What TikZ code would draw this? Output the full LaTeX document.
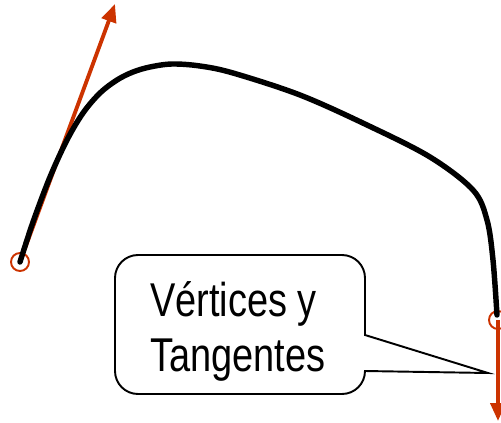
\documentclass[tikz,border=0pt]{standalone}
\usepackage{fontspec}
\setmainfont{Liberation Sans}
\usetikzlibrary{arrows.meta}
\definecolor{tanred}{RGB}{204,51,0}
\tikzset{
  vertex/.style={circle, draw=tanred, line width=1.1pt, minimum size=0.36cm, inner sep=0pt},
  tangent/.style={tanred, line width=2.2pt, -{Triangle[length=0.36cm, width=0.3cm]}},
  spline/.style={black, line width=3.1pt, line cap=round}
}
\begin{document}
\begin{tikzpicture}[x=0.02cm, y=-0.02cm]
\useasboundingbox (0,0) rectangle (501,423);
% vertices
\node[vertex] (v0) at (20,262) {};
\node[vertex] (v1) at (498,320) {};
\coordinate (t0) at (115,4);
\coordinate (t1) at (498,421);
% tangents
\draw[tangent] (v0.center) -- (t0);
\draw[tangent] (v1.center) -- (t1);
% curve
\draw[spline] plot[smooth, tension=0.55] coordinates {(v0.center) (33,222) (50,177) (67,140) (83,113) (100,93) (117,80) (133,72) (150,67) (172,64) (200,66) (233,73) (300,95) (367,125) (430,157) (473,190) (487,220) (493,260) (497,315)};
% callout
\coordinate (tip) at (488,373);
\draw[line width=1.1pt, rounded corners=0.46cm] (240,394) -- (115,394) -- (115,255) -- (365,255) [sharp corners] -- (365,335) -- (tip) -- (365,371) [rounded corners=0.46cm] -- (365,394) -- cycle;
\node[anchor=base west, inner sep=0pt, align=left, font=\fontsize{27}{31.3}\selectfont] (label) at (150,371) {\scalebox{0.8}[1]{Vértices y}\\\scalebox{0.8}[1]{Tangentes}};
\end{tikzpicture}
\end{document}
